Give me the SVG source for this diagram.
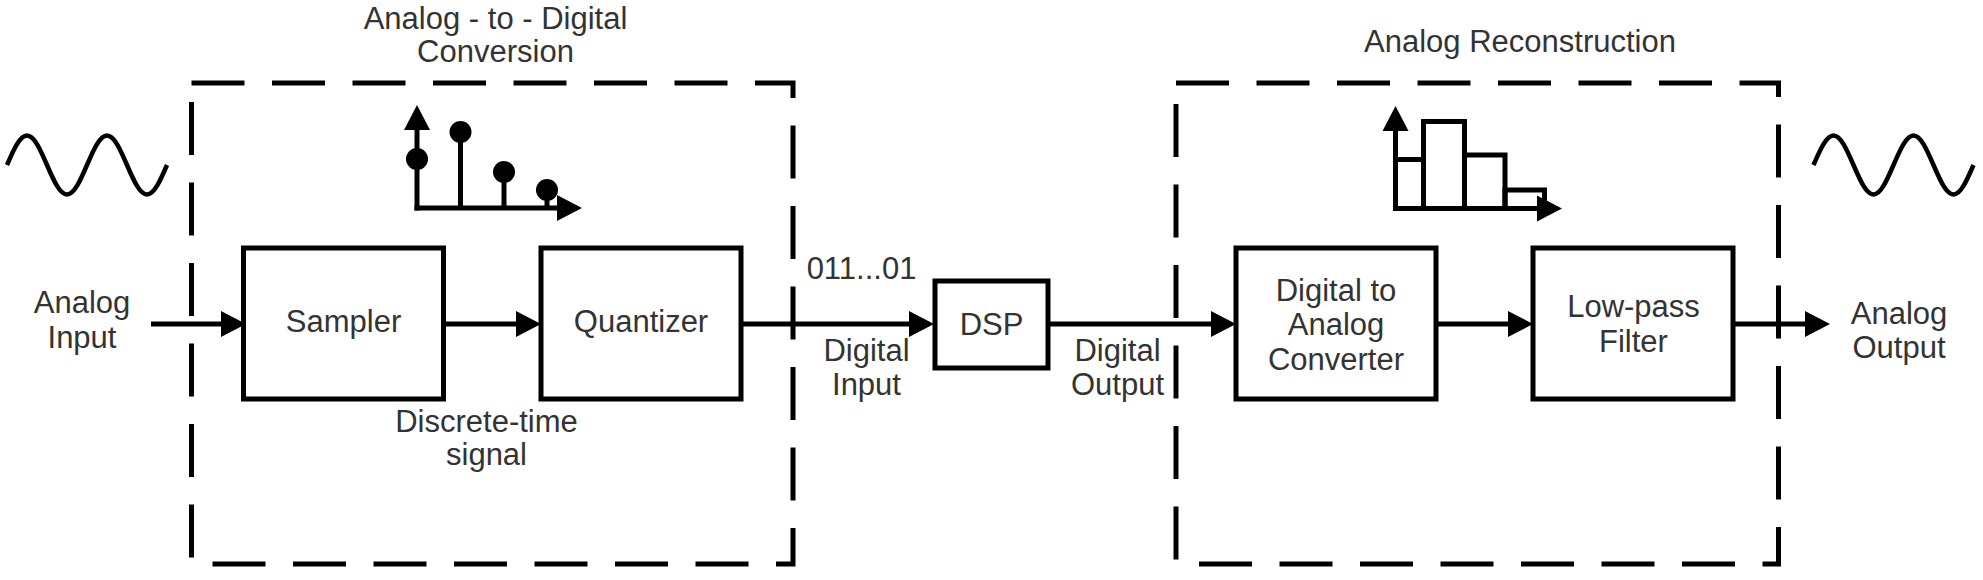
<svg xmlns="http://www.w3.org/2000/svg" width="1983" height="580" viewBox="0 0 1983 580">
<defs>
<marker id="ah" markerUnits="userSpaceOnUse" markerWidth="25" markerHeight="26" refX="0" refY="13" orient="auto" overflow="visible"><path d="M0,0 L25,13 L0,26 Z" fill="#000"/></marker>
<style>
.t{font-family:"Liberation Sans",Arial,Helvetica,sans-serif;font-size:31px;fill:#333;text-anchor:middle}
.box{fill:#fff;stroke:#000;stroke-width:5}
.grp{fill:none;stroke:#000;stroke-width:5;stroke-dasharray:53 27.5}
.conn{stroke:#000;stroke-width:5;fill:none;marker-end:url(#ah)}
.icon{stroke:#000;stroke-width:5;fill:none}
.axis{stroke:#000;stroke-width:5;fill:none;marker-end:url(#ah)}
.wave{stroke:#000;stroke-width:4.5;fill:none;stroke-linecap:butt}
</style>
</defs>
<rect width="1983" height="580" fill="#fff"/>

<g id="adc-group">
<rect class="grp" x="191.5" y="83" width="601.5" height="481"/>
<text class="t" x="495.5" y="28.5">Analog - to - Digital</text>
<text class="t" x="495.5" y="62">Conversion</text>
</g>
<g id="reconstruction-group">
<rect class="grp" x="1176" y="83" width="602.5" height="481"/>
<text class="t" x="1520" y="52">Analog Reconstruction</text>
</g>

<g id="sine-in">
<path class="wave" d="M7,165 C13.52,149.89 19.76,135.5 27,135.5 C34.24,135.5 40.48,149.89 47,165 C53.52,180.11 59.76,194.5 67,194.5 C74.24,194.5 80.48,180.11 87,165 C93.52,149.89 99.76,135.5 107,135.5 C114.24,135.5 120.48,149.89 127,165 C133.52,180.11 139.76,194.5 147,194.5 C154.24,194.5 160.48,180.11 167,165"/>
</g>
<g id="sine-out">
<path class="wave" d="M1813.5,165 C1820.02,149.89 1826.26,135.5 1833.5,135.5 C1840.74,135.5 1846.98,149.89 1853.5,165 C1860.02,180.11 1866.26,194.5 1873.5,194.5 C1880.74,194.5 1886.98,180.11 1893.5,165 C1900.02,149.89 1906.26,135.5 1913.5,135.5 C1920.74,135.5 1926.98,149.89 1933.5,165 C1940.02,180.11 1946.26,194.5 1953.5,194.5 C1960.74,194.5 1966.98,180.11 1973.5,165"/>
</g>

<g id="sample-plot">
<line class="axis" x1="417" y1="210.5" x2="417" y2="130"/>
<line class="axis" x1="414.5" y1="208" x2="557" y2="208"/>
<line class="icon" x1="460.5" y1="132" x2="460.5" y2="208"/>
<line class="icon" x1="504" y1="172" x2="504" y2="208"/>
<line class="icon" x1="547" y1="190" x2="547" y2="208"/>
<circle cx="417" cy="159" r="11" fill="#000"/>
<circle cx="460.5" cy="132" r="11" fill="#000"/>
<circle cx="504" cy="172" r="11" fill="#000"/>
<circle cx="547" cy="190" r="11" fill="#000"/>
</g>

<g id="staircase-plot">
<rect class="icon" x="1395.5" y="159.5" width="28" height="49"/>
<rect class="icon" x="1423.5" y="121.5" width="41" height="87"/>
<rect class="icon" x="1464.5" y="155" width="40.5" height="53.5"/>
<rect class="icon" x="1505" y="190" width="39.5" height="18.5"/>
<line class="axis" x1="1395.5" y1="211" x2="1395.5" y2="131"/>
<line class="axis" x1="1393" y1="208.5" x2="1537" y2="208.5"/>
</g>

<g id="connectors">
<line class="conn" x1="151" y1="324" x2="221" y2="324"/>
<line class="conn" x1="446" y1="324" x2="516" y2="324"/>
<line class="conn" x1="743" y1="324" x2="909" y2="324"/>
<line class="conn" x1="1050" y1="324" x2="1211" y2="324"/>
<line class="conn" x1="1438" y1="324" x2="1508" y2="324"/>
<line class="conn" x1="1735" y1="324" x2="1805" y2="324"/>
<text class="t" x="82" y="313">Analog</text>
<text class="t" x="82" y="348">Input</text>
<text class="t" x="486.5" y="431.5">Discrete-time</text>
<text class="t" x="486.5" y="465">signal</text>
<text class="t" x="861.5" y="279">011...01</text>
<text class="t" x="866.5" y="361">Digital</text>
<text class="t" x="866.5" y="395">Input</text>
<text class="t" x="1117.5" y="361">Digital</text>
<text class="t" x="1117.5" y="395">Output</text>
<text class="t" x="1899" y="324">Analog</text>
<text class="t" x="1899" y="358">Output</text>
</g>

<g id="sampler">
<rect class="box" x="243.5" y="248" width="200" height="151"/>
<text class="t" x="343.5" y="332">Sampler</text>
</g>
<g id="quantizer">
<rect class="box" x="541" y="248" width="200" height="151"/>
<text class="t" x="641" y="332">Quantizer</text>
</g>
<g id="dsp">
<rect class="box" x="935" y="281" width="113" height="87"/>
<text class="t" x="991.5" y="335">DSP</text>
</g>
<g id="dac">
<rect class="box" x="1236" y="248" width="200" height="151"/>
<text class="t" x="1336" y="301">Digital to</text>
<text class="t" x="1336" y="335">Analog</text>
<text class="t" x="1336" y="369.5">Converter</text>
</g>
<g id="lowpass">
<rect class="box" x="1533" y="248" width="200" height="151"/>
<text class="t" x="1633.5" y="317">Low-pass</text>
<text class="t" x="1633.5" y="352">Filter</text>
</g>
</svg>
